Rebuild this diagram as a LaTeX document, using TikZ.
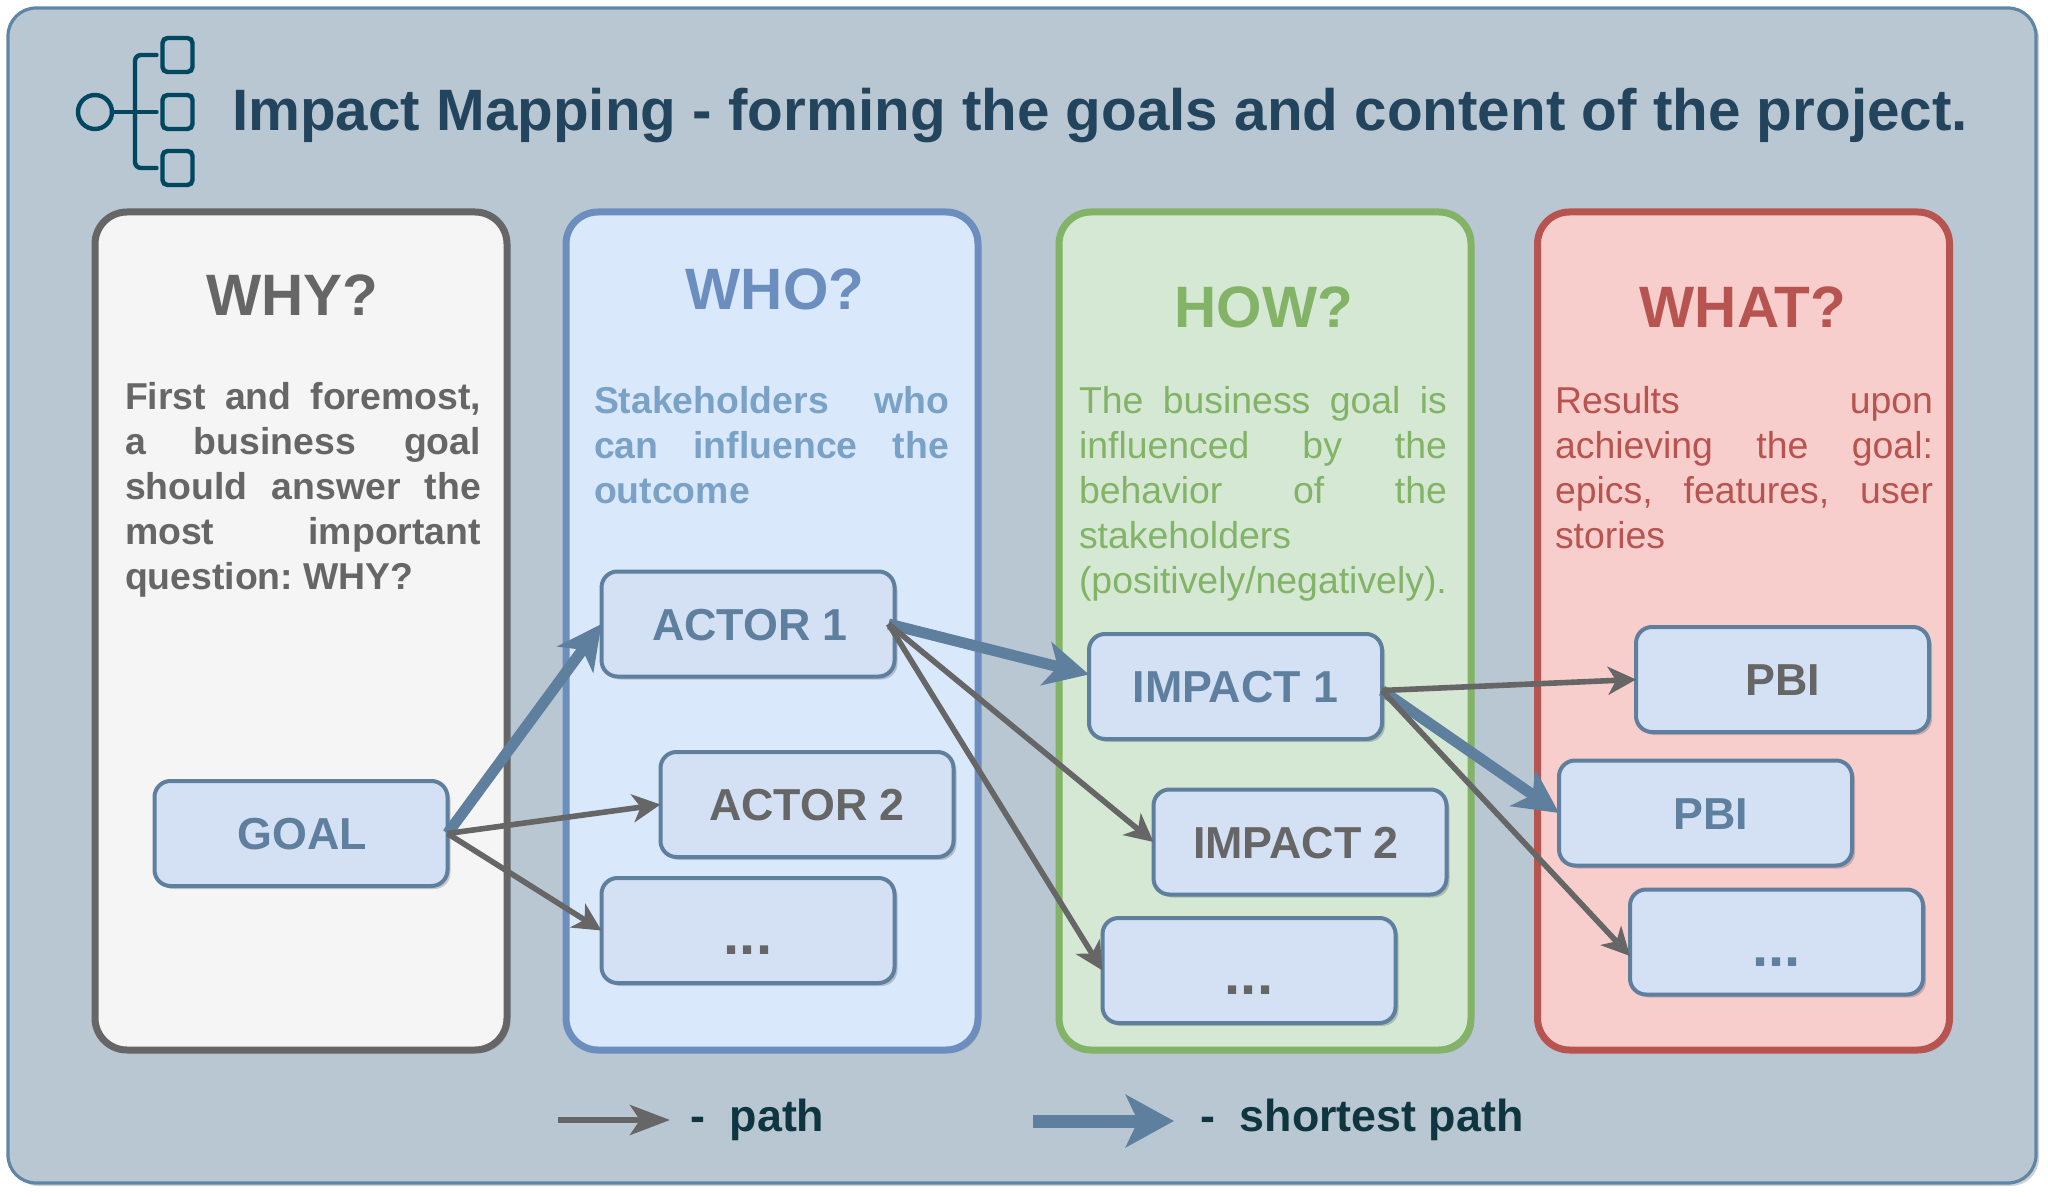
\documentclass[tikz,border=0pt]{standalone}
\usepackage{fontspec}
\setmainfont{Liberation Sans}
\frenchspacing
\usetikzlibrary{arrows.meta, positioning, shadows}
\definecolor{frameFill}{HTML}{B9C7D3}
\definecolor{frameLine}{HTML}{5F86A5}
\definecolor{titleInk}{HTML}{23445D}
\definecolor{iconInk}{HTML}{00475F}
\definecolor{legendInk}{HTML}{0F3640}
\definecolor{boxFill}{HTML}{D4E1F5}
\definecolor{boxLine}{HTML}{5E7F9D}
\definecolor{greyInk}{HTML}{666666}
\definecolor{whyFill}{HTML}{F5F5F5}
\definecolor{whoFill}{HTML}{DAE8FC}
\definecolor{whoLine}{HTML}{6C8EBF}
\definecolor{whoInk}{HTML}{7AA2C6}
\definecolor{howFill}{HTML}{D5E8D4}
\definecolor{howLine}{HTML}{82B366}
\definecolor{whatFill}{HTML}{F8CECC}
\definecolor{whatLine}{HTML}{B85450}
\tikzset{
	every node/.style={
		align=center,
		outer sep=0pt,
	},
	soft-shadow/.style={
		drop shadow={shadow xshift=1.5pt, shadow yshift=-1.5pt, opacity=0.18, fill=black},
	},
	panel-node/.style={
		rectangle,
		rounded corners=16pt,
		line width=3.5pt,
		minimum width=206pt,
		minimum height=419pt,
		soft-shadow,
	},
	box-node/.style={
		rectangle,
		rounded corners=8pt,
		draw=boxLine, line width=2pt,
		fill=boxFill,
		minimum width=146.5pt,
		minimum height=52.5pt,
		inner sep=0pt,
		text height=16pt,
		text depth=0pt,
		font=\bfseries\fontsize{22.4}{22.4}\selectfont,
		soft-shadow,
	},
	dots-node/.style={
		box-node,
		text height=24pt,
		font=\bfseries\fontsize{29}{29}\selectfont,
	},
	head-node/.style={
		font=\bfseries\fontsize{29.2}{29.2}\selectfont,
	},
	body-node/.style={
		anchor=north west,
		inner sep=0pt,
		align=justify,
		font=\fontsize{18.7}{22.5}\selectfont,
	},
	icon-box/.style={
		rectangle,
		rounded corners=2.5pt,
		draw=iconInk, line width=2.2pt,
		minimum width=15pt,
		minimum height=17pt,
	},
	icon-line/.style={
		draw=iconInk, line width=2.2pt, line cap=round, rounded corners=3pt,
	},
	path-edge/.style={
		draw=greyInk, line width=2.8pt,
		-{Stealth[length=14pt, width=14pt, inset=4pt]},
	},
	short-edge/.style={
		draw=boxLine, line width=5.5pt,
		-{Stealth[length=22pt, width=22pt, inset=6pt]},
	},
	legend-node/.style={
		anchor=west,
		inner sep=0pt,
		text=legendInk,
		font=\bfseries\fontsize{22.4}{22.4}\selectfont,
	},
}
\begin{document}
\begin{tikzpicture}[x=0.5pt, y=-0.5pt]
	\useasboundingbox (0,0) rectangle (2048,1197);
	\node (frame) [rectangle, rounded corners=14pt, draw=frameLine, line width=1.6pt, fill=frameFill,
		minimum width=1014pt, minimum height=587.5pt, soft-shadow] at (1022,595.5) {};
	% icon
	\node (iconRoot) [circle, draw=iconInk, line width=2.2pt, minimum size=17pt, inner sep=0pt] at (95,112) {};
	\node (iconTop) [icon-box] at (177.5,55) {};
	\node (iconMid) [icon-box] at (177.5,112) {};
	\node (iconLow) [icon-box] at (177.5,168) {};
	\coordinate (iconFork) at (135,112);
	\draw [icon-line] (iconRoot.east) -- ([xshift=-3pt]iconMid.west);
	\draw [icon-line] ([xshift=-3pt]iconTop.west) -| ([yshift=-4pt]iconFork);
	\draw [icon-line] ([xshift=-3pt]iconLow.west) -| ([yshift=-2pt]iconFork);
	\node (title) [anchor=west, inner sep=0pt, text=titleInk, font=\bfseries\fontsize{29.2}{29.2}\selectfont] at (232,116)
		{Impact Mapping - forming the goals and content of the project.};
	% columns
	\node (why) [panel-node, draw=greyInk, fill=whyFill] at (301,631) {};
	\node (who) [panel-node, draw=whoLine, fill=whoFill] at (772,631) {};
	\node (how) [panel-node, draw=howLine, fill=howFill] at (1265,631) {};
	\node (what) [panel-node, draw=whatLine, fill=whatFill] at (1743.5,631) {};
	\node (whyHead) [head-node, text=greyInk] at (292,295) {WHY?};
	\node (whoHead) [head-node, text=whoLine] at (775,289) {WHO?};
	\node (howHead) [head-node, text=howLine] at (1264,307) {HOW?};
	\node (whatHead) [head-node, text=whatLine] at (1743,307) {WHAT?};
	\node (whyBody) [body-node, text=greyInk, text width=178pt, font=\bfseries\fontsize{18.7}{22.5}\selectfont] at (125,382)
		{First and foremost,\linebreak a business goal\linebreak should answer the\linebreak most important\linebreak question: WHY?};
	\node (whoBody) [body-node, text=whoInk, text width=177.5pt, font=\bfseries\fontsize{18.7}{22.5}\selectfont] at (594,386)
		{Stakeholders who\linebreak can influence the\linebreak outcome};
	\node (howBody) [body-node, text=howLine, text width=184pt] at (1079,386)
		{The business goal is\linebreak influenced by the\linebreak behavior of the\linebreak stakeholders\\ (positively/negatively).};
	\node (whatBody) [body-node, text=whatLine, text width=189pt] at (1555,386)
		{Results upon\linebreak achieving the goal:\linebreak epics, features, user\linebreak stories};
	% boxes
	\node (goal) [box-node, text=boxLine] at (301,833.5) {\hspace*{1pt}GOAL};
	\node (actorA) [box-node, text=boxLine] at (748,624) {\hspace*{2pt}ACTOR 1};
	\node (actorB) [box-node, text=greyInk] at (807,804.5) {ACTOR 2};
	\node (actorC) [dots-node, text=greyInk] at (748,930.5) {...};
	\node (impactA) [box-node, text=boxLine] at (1235.5,686.5) {IMPACT 1};
	\node (impactB) [box-node, text=greyInk] at (1300,842) {IMPACT 2\hspace*{4pt}};
	\node (impactC) [dots-node, text=greyInk] at (1249,970.5) {...};
	\node (pbiA) [box-node, text=greyInk] at (1782.5,679.5) {PBI};
	\node (pbiB) [box-node, text=boxLine] at (1705.5,813) {\hspace*{5pt}PBI};
	\node (pbiC) [dots-node, text=boxLine] at (1776.5,942) {...};
	% connectors
	\draw [short-edge] (goal.east) -- (actorA.west);
	\draw [short-edge] ([xshift=-3pt]actorA.east) -- ([yshift=6pt]impactA.west);
	\draw [short-edge] ([yshift=-2pt]impactA.east) -- (pbiB.west);
	\draw [path-edge] (goal.east) -- (actorB.west);
	\draw [path-edge] (goal.east) -- (actorC.west);
	\draw [path-edge] ([xshift=-3pt]actorA.east) -- (impactB.west);
	\draw [path-edge] ([xshift=-3pt]actorA.east) -- (impactC.west);
	\draw [path-edge] ([yshift=-2pt]impactA.east) -- (pbiA.west);
	\draw [path-edge] ([yshift=-2pt]impactA.east) -- ([yshift=-7pt]pbiC.west);
	% legend
	\coordinate (pathFrom) at (558,1120);
	\coordinate (pathTo) at (670,1120);
	\coordinate (shortFrom) at (1033,1121);
	\coordinate (shortTo) at (1174,1121);
	\draw [draw=greyInk, line width=2.8pt, -{Stealth[length=20pt, width=15pt, inset=5pt]}] (pathFrom) -- (pathTo);
	\draw [draw=boxLine, line width=6.5pt, -{Stealth[length=24pt, width=26pt, inset=6pt]}] (shortFrom) -- (shortTo);
	\node (pathText) [legend-node] at (690,1120) {-\ \ path};
	\node (shortText) [legend-node] at (1200,1120) {-\ \ shortest path};
\end{tikzpicture}
\end{document}
